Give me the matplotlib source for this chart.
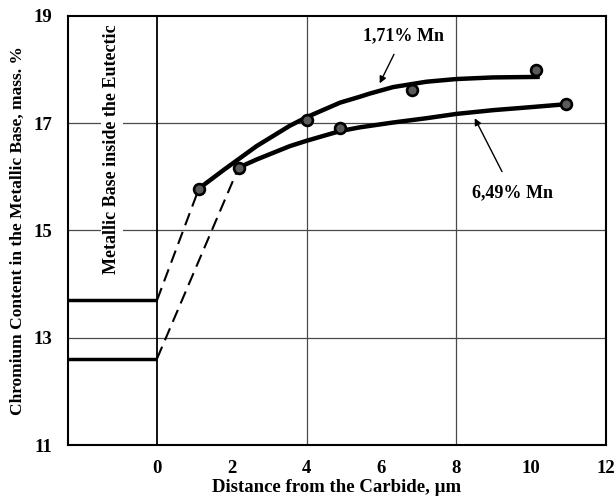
import matplotlib
matplotlib.use("Agg")
import matplotlib.pyplot as plt

plt.rcParams['font.family'] = ['Liberation Serif', 'DejaVu Serif']
plt.rcParams['font.weight'] = 'bold'

# Measured points
mn171_x = [1.12, 4.02, 6.82, 10.12]
mn171_y = [15.78, 17.06, 17.62, 17.99]
mn649_x = [2.18, 4.9, 10.92]
mn649_y = [16.17, 16.9, 17.35]

# Fitted curves
curve171_x = [1.12, 1.77, 2.66, 3.55, 4.0, 4.89, 5.42, 5.69, 6.31, 7.2, 8.0, 8.98, 10.23]
curve171_y = [15.78, 16.12, 16.57, 16.95, 17.11, 17.38, 17.49, 17.55, 17.67, 17.77, 17.82, 17.85, 17.86]
curve649_x = [2.18, 2.66, 3.55, 4.0, 4.89, 5.42, 6.31, 7.2, 8.0, 8.98, 9.88, 10.92]
curve649_y = [16.17, 16.32, 16.57, 16.67, 16.85, 16.92, 17.01, 17.09, 17.17, 17.24, 17.29, 17.35]

# Base levels (inside eutectic) and dashed links
base171 = 13.70
base649 = 12.61
x_left = -2.38

xticks = [0, 2, 4, 6, 8, 10, 12]
yticks = [11, 13, 15, 17, 19]

fig = plt.figure(figsize=(6.16, 4.99), dpi=100)
ax = fig.add_axes([0.1104, 0.1082, 0.8734, 0.8603])
ax.set_xlim(x_left, 12)
ax.set_ylim(11, 19)

# grid
for gx in [4, 8]:
    ax.axvline(gx, color='#4a4a4a', lw=0.9, zorder=1)
for gy in [13, 15, 17]:
    ax.axhline(gy, color='#4a4a4a', lw=0.9, zorder=1)
ax.axvline(0, color='black', lw=1.3, zorder=2)

# base levels
ax.plot([x_left, 0], [base171, base171], color='black', lw=2.5, solid_capstyle='butt', zorder=3)
ax.plot([x_left, 0], [base649, base649], color='black', lw=2.5, solid_capstyle='butt', zorder=3)

# dashed links
ax.plot([0, mn171_x[0]], [base171, mn171_y[0]], color='black', lw=1.5, dashes=(6.2, 3.4), zorder=3)
ax.plot([0, mn649_x[0]], [base649, mn649_y[0]], color='black', lw=1.5, dashes=(6.2, 3.4), zorder=3)

# curves
ax.plot(curve171_x, curve171_y, color='black', lw=3.2, solid_joinstyle='round', solid_capstyle='butt', zorder=4)
ax.plot(curve649_x, curve649_y, color='black', lw=3.2, solid_joinstyle='round', solid_capstyle='butt', zorder=4)

# markers
ax.plot(mn171_x, mn171_y, 'o', ms=7.8, mfc='#5a5a5a', mec='black', mew=1.9, zorder=5)
ax.plot(mn649_x, mn649_y, 'o', ms=7.8, mfc='#5a5a5a', mec='black', mew=1.9, zorder=5)

# annotations
ax.annotate('1,71% Mn', xy=(5.95, 17.74), xytext=(6.58, 18.63), fontsize=13, fontweight='bold',
            ha='center', va='center',
            arrowprops=dict(arrowstyle='-|>', color='black', lw=1.0, mutation_scale=10,
                            shrinkA=6, shrinkB=0))
ax.annotate('6,49% Mn', xy=(8.49, 17.09), xytext=(9.51, 15.7), fontsize=13, fontweight='bold',
            ha='center', va='center',
            arrowprops=dict(arrowstyle='-|>', color='black', lw=1.0, mutation_scale=10,
                            shrinkA=8, shrinkB=0))

ax.text(-1.21, 16.52, 'Metallic Base inside the Eutectic', rotation=90, fontsize=13,
        fontweight='bold', ha='center', va='center', zorder=6,
        bbox=dict(facecolor='white', edgecolor='none', pad=2))

ax.set_xticks(xticks)
ax.set_yticks(yticks)
ax.set_xticklabels([str(v) for v in xticks])
ax.set_yticklabels([str(v) for v in yticks])
ax.tick_params(length=0, labelsize=13.5, pad=11)
for lab in ax.get_xticklabels() + ax.get_yticklabels():
    lab.set_fontweight('bold')

for s in ax.spines.values():
    s.set_linewidth(1.5)
    s.set_color('black')
    s.set_zorder(7)

ax.set_xlabel('Distance from the Carbide, µm', fontsize=13.5, fontweight='bold', labelpad=1)
ax.set_ylabel('Chromium Content in the Metallic Base, mass. %', fontsize=12.5, fontweight='bold', labelpad=6)

fig.savefig('out.png', dpi=100)
